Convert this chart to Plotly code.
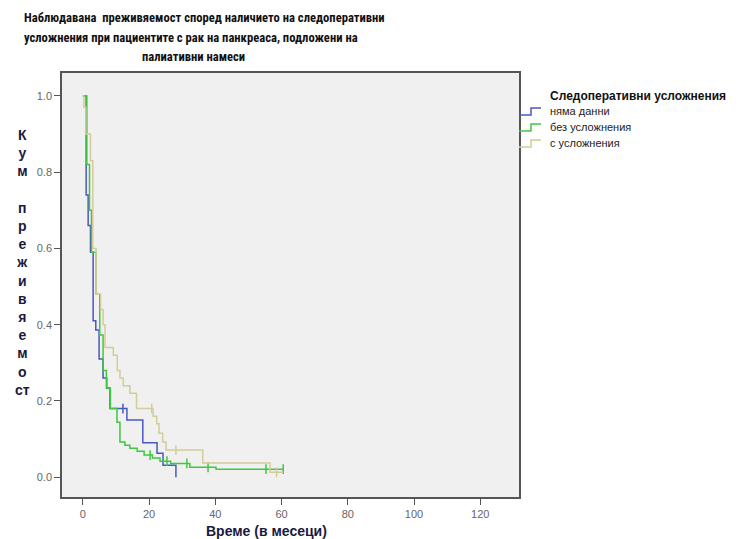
import numpy as np
import plotly.graph_objects as go

# ---- data ----
blue_t = [0, 1.0, 1.6, 2.3, 3.1, 3.9, 4.9, 6.1, 7.2, 8.2, 13.3, 18.1, 22.4, 24.2, 28.1]
blue_s = [1.0, 0.74, 0.66, 0.59, 0.41, 0.386, 0.31, 0.26, 0.234, 0.18, 0.15, 0.09, 0.063, 0.031, 0.0]
blue_cens = [12.1]

green_t = [0, 1.2, 2.0, 2.6, 4.0, 5.1, 6.1, 7.1, 8.3, 10.3, 11.2, 12.7, 14.2, 16.4, 18.5, 21.0, 23.3, 26.5, 32.3, 40.2, 60.5]
green_s = [1.0, 0.82, 0.70, 0.59, 0.48, 0.373, 0.28, 0.234, 0.18, 0.144, 0.092, 0.084, 0.076, 0.068, 0.058, 0.050, 0.042, 0.036, 0.026, 0.021, 0.021]
green_cens = [20.3, 25.4, 31.4, 37.8, 55.3, 60.5]

tan_t = [0, 0.3, 0.9, 2.3, 3.0, 4.0, 5.35, 6.1, 6.7, 9.2, 10.4, 11.2, 12.2, 14.2, 16.2, 21.2, 22.3, 23.0, 24.1, 25.1, 36.2, 56.5, 60.5]
tan_s = [1.0, 0.97, 0.90, 0.83, 0.60, 0.48, 0.44, 0.40, 0.34, 0.32, 0.28, 0.26, 0.24, 0.22, 0.18, 0.16, 0.14, 0.115, 0.092, 0.071, 0.037, 0.013, 0.013]
tan_cens = [20.8, 28.1, 58.5]

group_names = ["няма данни", "без усложнения", "с усложнения"]
x_ticks = [0, 20, 40, 60, 80, 100, 120]
y_ticks = [0.0, 0.2, 0.4, 0.6, 0.8, 1.0]

title_lines = ["Наблюдавана  преживяемост според наличието на следоперативни",
               "усложнения при пациентите с рак на панкреаса, подложени на",
               "палиативни намеси"]
xtitle = "Време (в месеци)"
legend_title = "Следоперативни усложнения"

colors = ["#4a58c0", "#3fc83f", "#d4cc98"]

W, H = 739, 539
L, R, T, B = 62, 220, 73, 42

def step_val(t, s, x):
    idx = np.searchsorted(np.array(t), x, side="right") - 1
    return np.array(s)[idx]

fig = go.Figure()
series = [(blue_t, blue_s, blue_cens), (green_t, green_s, green_cens), (tan_t, tan_s, tan_cens)]
for (t, s, c), name, col in zip(series, group_names, colors):
    fig.add_trace(go.Scatter(x=t, y=s, mode="lines", line=dict(shape="hv", color=col, width=1.5),
                             name=name, showlegend=False))
    fig.add_trace(go.Scatter(x=c, y=step_val(t, s, c), mode="markers",
                             marker=dict(symbol="line-ns", size=7, line=dict(color=col, width=1.5)),
                             showlegend=False, hoverinfo="skip"))

tick_font = dict(family="Liberation Sans, Arial, sans-serif", size=11, color="#666666")
fig.update_xaxes(range=[-6.3, 131.7], tickvals=x_ticks, ticks="outside", ticklen=6, tickcolor="#555",
                 showgrid=False, zeroline=False, showline=True, linecolor="#555", linewidth=1.5,
                 mirror=True, tickfont=tick_font)
fig.update_yaxes(range=[-0.052, 1.06], tickvals=y_ticks, tickformat=".1f", ticks="outside", ticklen=6,
                 tickcolor="#555", showgrid=False, zeroline=False, showline=True, linecolor="#555",
                 linewidth=1.5, mirror=True, tickfont=tick_font)

def px_x(p):
    return (p - L) / (W - L - R)

def px_y(p):
    return 1 - (p - T) / (H - T - B)

tfont = dict(family="Roboto Condensed, Roboto, sans-serif", size=12.6, color="#111111")
ann = []
for line, cx, cy in zip(title_lines, [204, 191, 193], [18, 37.5, 56.5]):
    ann.append(dict(text="<b>" + line + "</b>", x=px_x(cx), y=px_y(cy), xref="paper", yref="paper",
                    xanchor="center", yanchor="middle", showarrow=False, font=tfont))

ylines = ["К", "у", "м", "", "п", "р", "е", "ж", "и", "в", "я", "е", "м", "о", "ст"]
ann.append(dict(text="<b>" + "<br>".join(ylines) + "</b>", x=px_x(22), y=px_y(262), xref="paper", yref="paper",
                xanchor="center", yanchor="middle", showarrow=False,
                font=dict(family="Liberation Sans, Arial, sans-serif", size=14, color="#1a1a40")))
ann.append(dict(text="<b>" + xtitle + "</b>", x=px_x(266), y=px_y(531), xref="paper", yref="paper",
                xanchor="center", yanchor="middle", showarrow=False,
                font=dict(family="Liberation Sans, Arial, sans-serif", size=14, color="#1a1a40")))
ann.append(dict(text="<b>" + legend_title + "</b>", x=px_x(548), y=px_y(96), xref="paper", yref="paper",
                xanchor="left", yanchor="middle", showarrow=False,
                font=dict(family="Liberation Sans, Arial, sans-serif", size=12, color="#111111")))

# manual legend entries with SPSS-like step symbols
shapes = []
for i, (name, col) in enumerate(zip(group_names, colors)):
    yc = 111 + i * 16
    ann.append(dict(text=name, x=px_x(548), y=px_y(yc), xref="paper", yref="paper",
                    xanchor="left", yanchor="middle", showarrow=False,
                    font=dict(family="Liberation Sans, Arial, sans-serif", size=11, color="#222")))
    path = "M {} {} L {} {} L {} {} L {} {}".format(
        px_x(519), px_y(yc + 4), px_x(531), px_y(yc + 4), px_x(531), px_y(yc - 3), px_x(541), px_y(yc - 3))
    shapes.append(dict(type="path", path=path, xref="paper", yref="paper",
                       line=dict(color=col, width=1.5)))

fig.update_layout(
    width=W, height=H, margin=dict(l=L, r=R, t=T, b=B),
    paper_bgcolor="white", plot_bgcolor="#f0f0f0",
    annotations=ann, shapes=shapes,
    showlegend=False,
)

fig.write_html("out.html")
